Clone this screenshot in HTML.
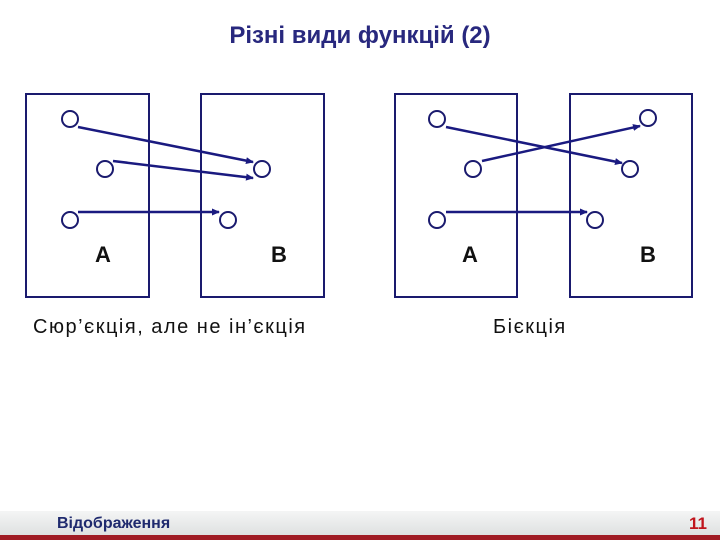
<!DOCTYPE html>
<html><head><meta charset="utf-8"><style>
body{margin:0;width:720px;height:540px;background:#fff;position:relative;overflow:hidden;font-family:"Liberation Sans",sans-serif}
.t{position:absolute;white-space:nowrap}
</style></head><body>
<div class="t" style="left:0;width:720px;top:22px;text-align:center;font-size:24px;font-weight:bold;color:#28287e">Різні види функцій (2)</div>
<svg width="720" height="540" style="position:absolute;left:0;top:0">
<defs><marker id="a" markerWidth="8" markerHeight="8" refX="7" refY="4" orient="auto" markerUnits="userSpaceOnUse"><path d="M0,0.5 L8,4 L0,7.5z" fill="#1a1a80"/></marker></defs>
<g fill="none" stroke="#1a1a6e" stroke-width="2">
<rect x="26" y="94" width="123" height="203"/>
<rect x="201" y="94" width="123" height="203"/>
<rect x="395" y="94" width="122" height="203"/>
<rect x="570" y="94" width="122" height="203"/>
<circle cx="70" cy="119" r="8"/><circle cx="105" cy="169" r="8"/><circle cx="70" cy="220" r="8"/>
<circle cx="262" cy="169" r="8"/><circle cx="228" cy="220" r="8"/>
<circle cx="437" cy="119" r="8"/><circle cx="473" cy="169" r="8"/><circle cx="437" cy="220" r="8"/>
<circle cx="648" cy="118" r="8"/><circle cx="630" cy="169" r="8"/><circle cx="595" cy="220" r="8"/>
</g>
<g stroke="#1a1a80" stroke-width="2.5" marker-end="url(#a)">
<line x1="78" y1="127" x2="253" y2="162"/>
<line x1="113" y1="161" x2="253" y2="178"/>
<line x1="78" y1="212" x2="219" y2="212"/>
<line x1="446" y1="127" x2="622" y2="163"/>
<line x1="482" y1="161" x2="640" y2="126"/>
<line x1="446" y1="212" x2="587" y2="212"/>
</g>
<g font-family="Liberation Sans, sans-serif" font-weight="bold" font-size="22" fill="#111">
<text x="95" y="262">A</text><text x="271" y="262">B</text>
<text x="462" y="262">A</text><text x="640" y="262">B</text>
</g>
</svg>
<div class="t" style="left:33px;top:316px;font-size:20px;letter-spacing:1.5px;color:#111">Сюр’єкція, але не ін’єкція</div>
<div class="t" style="left:493px;top:316px;font-size:20px;letter-spacing:1.5px;color:#111">Бієкція</div>
<div class="t" style="left:0;top:511px;width:720px;height:24px;background:linear-gradient(#f4f5f5,#dfe1e1)"></div>
<div class="t" style="left:0;top:535px;width:720px;height:5px;background:#a01c24"></div>
<div class="t" style="left:57px;top:515px;font-size:16px;font-weight:bold;color:#1f2a6e">Відображення</div>
<div class="t" style="left:689px;top:514px;font-size:17px;font-weight:bold;color:#c0141c">11</div>
</body></html>
